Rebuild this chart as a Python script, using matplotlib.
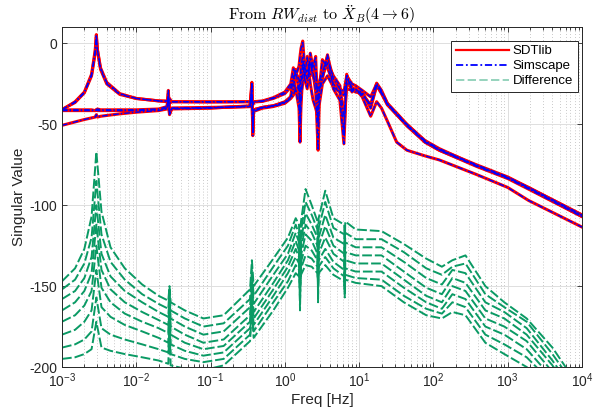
import matplotlib

matplotlib.use("Agg")

import matplotlib.pyplot as plt
from matplotlib.lines import Line2D


plt.rcParams["font.family"] = ["Liberation Sans", "DejaVu Sans"]
plt.rcParams["mathtext.fontset"] = "custom"
plt.rcParams["mathtext.rm"] = "Liberation Sans"
plt.rcParams["mathtext.it"] = "Liberation Sans:italic"
plt.rcParams["axes.unicode_minus"] = False

TEXT_COLOR = "#262626"
SDT_COLOR = "#ff0000"
SIM_COLOR = "#0000ff"
DIFF_COLOR = "#0a9a64"
SIM_STYLE = (0, (4, 1.5, 1, 1.5))
DIFF_STYLE = (0, (5, 1.5))

# SDTlib / Simscape singular values (dB)
SDT_FREQ = [0.001, 0.0015, 0.002, 0.0025, 0.0028, 0.0029, 0.003, 0.0033, 0.004, 0.006,
            0.01, 0.02, 0.026, 0.027, 0.028, 0.03, 0.1, 0.34, 0.36, 0.37,
            0.38, 0.5, 0.7, 1.0, 1.2, 1.3, 1.4, 1.55, 1.6, 1.65,
            1.74, 1.85, 2.0, 2.2, 2.4, 2.6, 2.8, 2.9, 3.2, 3.75,
            4.5, 5.5, 6.24, 6.8, 8.0, 8.9, 11, 14.3, 17.2, 20,
            24, 32, 44, 77, 120, 380, 1000, 1900, 10000]
SDT_1 = [-41, -36, -30, -19, -4, 5.5, -4, -15, -24, -31,
         -34, -35.5, -35.5, -35.8, -34, -36, -36, -36, -35, -36.5,
         -36, -35.5, -33.5, -30, -25, -15, -20, -14, -8, -3,
         1.5, -15, -22, -12, -20, -25, -28, -24, -18, -8,
         -22, -28, -30, -20, -25, -26, -29, -33, -25, -30,
         -37, -43, -50, -60, -65, -75.5, -83, -89, -106]
SDT_2 = [-41, -41, -41, -41, -41.5, -41, -40.5, -41, -41, -41,
         -41, -40.5, -39, -29, -44, -40.5, -40, -38.5, -24, -57,
         -42, -40, -39, -37, -34, -32, -28, -40, -61, -38,
         -20, -15, -18, -10, -18, -30, -66, -38, -25, -20,
         -27, -30, -32, -28, -29, -28, -32, -38, -26, -31,
         -38, -44, -51, -61, -66, -76, -83.5, -90, -107]
SDT_3 = [-50.6, -48.5, -47, -46, -45.5, -44, -45.5, -45, -44.5, -43.5,
         -42.5, -41.5, -40.5, -33, -43, -40, -39.5, -39, -28, -52,
         -41, -39.5, -38.5, -36, -33, -20, -30, -26, -50, -30,
         -25, -20, -8, -25, -35, -40, -45, -30, -22, -7,
         -28, -35, -62, -19, -30, -28, -33, -45, -36, -40,
         -48, -61, -66, -69.5, -72, -81, -89, -97, -113.5]
SDT_4 = [-41.5, -41.5, -41.5, -41.5, -41.5, -41, -41.5, -41.5, -41.5, -41.5,
         -41.5, -41, -40, -31, -43.5, -40, -39.8, -39, -26, -55,
         -41, -39.5, -38.5, -36.5, -33, -28, -16, -30, -45, -25,
         -12, -22, -28, -6, -15, -8, -50, -30, -20, -12,
         -20, -26, -45, -24, -28, -30, -31, -38, -24.5, -29,
         -37, -44, -50, -60.5, -65.5, -75, -82.5, -89, -106]
SDT_5 = [-40.8, -36.5, -30.5, -20, -6, 4, -4, -16, -25, -31.5,
         -34, -35.5, -36, -34, -37, -36, -36.2, -36, -33, -38,
         -36.2, -35.8, -34, -31, -27, -22, -18, -22, -30, -14,
         -8, -20, -16, -20, -12, -18, -35, -28, -10, -15,
         -25, -30, -55, -22, -27, -29, -30, -40, -26, -30,
         -37.5, -43.5, -50.5, -61, -66, -75.5, -83, -89.5, -107]

# Difference between the two models (dB)
DIFF_FREQ = [0.001, 0.0015, 0.002, 0.0025, 0.0029, 0.0034, 0.0045, 0.007, 0.012, 0.02,
             0.027, 0.028, 0.029, 0.045, 0.08, 0.15, 0.34, 0.36, 0.38, 0.7,
             1.1, 1.4, 1.55, 1.6, 1.65, 1.9, 2.3, 2.75, 2.8, 2.85,
             3.5, 4.5, 6.3, 6.4, 6.5, 9, 20, 40, 80, 130,
             180, 270, 500, 900, 1800, 4000, 10000]
DIFF_1 = [-147, -139, -127, -107, -67, -104, -126, -139, -149, -156,
          -159, -150, -160, -165, -170, -168, -152, -134, -150, -133,
          -120, -108, -112, -140, -110, -90, -100, -110, -135, -108,
          -91, -108, -112, -130, -110, -115, -116, -124, -133, -138,
          -134, -131, -150, -160, -170, -188, -215]
DIFF_2 = [-152, -146, -136, -120, -85, -118, -135, -146, -155, -161,
          -164, -152, -165, -170, -175, -173, -158, -140, -156, -138,
          -125, -112, -118, -150, -116, -98, -106, -115, -145, -114,
          -98, -114, -118, -140, -117, -121, -121, -129, -139, -143,
          -138, -136, -155, -163, -172, -192, -218]
DIFF_3 = [-158, -153, -145, -132, -100, -130, -144, -153, -160, -166,
          -169, -155, -170, -175, -180, -178, -163, -145, -161, -143,
          -130, -117, -123, -158, -122, -105, -112, -120, -155, -120,
          -106, -120, -124, -150, -123, -126, -126, -135, -145, -149,
          -140, -142, -160, -166, -176, -196, -222]
DIFF_4 = [-165, -160, -153, -142, -112, -140, -152, -160, -166, -171,
          -174, -158, -175, -180, -185, -183, -168, -150, -166, -148,
          -134, -122, -128, -165, -127, -112, -117, -125, -160, -125,
          -113, -125, -130, -157, -129, -131, -131, -141, -151, -155,
          -145, -148, -165, -170, -180, -199, -225]
DIFF_5 = [-172, -168, -162, -153, -125, -151, -160, -167, -172, -176,
          -179, -160, -180, -185, -189, -187, -172, -153, -170, -152,
          -138, -127, -132, -160, -131, -118, -122, -130, -152, -130,
          -120, -130, -135, -152, -134, -136, -136, -146, -156, -160,
          -150, -153, -170, -175, -184, -203, -228]
DIFF_6 = [-180, -177, -172, -165, -140, -163, -169, -174, -178, -182,
          -185, -162, -186, -190, -193, -191, -176, -156, -174, -156,
          -142, -132, -136, -150, -135, -125, -128, -134, -148, -134,
          -127, -135, -140, -150, -139, -141, -141, -151, -160, -164,
          -155, -158, -175, -180, -189, -207, -230]
DIFF_7 = [-188, -186, -183, -178, -157, -176, -180, -183, -186, -189,
          -191, -165, -192, -195, -197, -195, -180, -160, -178, -160,
          -147, -137, -140, -146, -139, -131, -133, -138, -146, -138,
          -132, -139, -144, -150, -143, -145, -146, -156, -164, -167,
          -160, -163, -180, -186, -194, -210, -232]
DIFF_8 = [-195, -194, -192, -189, -172, -188, -190, -192, -194, -196,
          -198, -170, -199, -201, -202, -199, -184, -165, -182, -165,
          -151, -142, -144, -149, -143, -137, -138, -142, -150, -142,
          -137, -143, -147, -152, -146, -148, -150, -160, -168, -170,
          -166, -168, -185, -192, -200, -214, -235]

X_TICKS = [1e-3, 1e-2, 1e-1, 1e0, 1e1, 1e2, 1e3, 1e4]
X_TICK_LABELS = ["$10^{-3}$", "$10^{-2}$", "$10^{-1}$", "$10^{0}$",
                 "$10^{1}$", "$10^{2}$", "$10^{3}$", "$10^{4}$"]
Y_TICKS = [-200, -150, -100, -50, 0]

sdt_curves = [SDT_1, SDT_2, SDT_3, SDT_4, SDT_5]
diff_curves = [DIFF_1, DIFF_2, DIFF_3, DIFF_4, DIFF_5, DIFF_6, DIFF_7, DIFF_8]

fig = plt.figure(figsize=(5.93, 4.19), dpi=100)
ax = fig.add_axes([62 / 593, 52 / 419, 520 / 593, 339.7 / 419])

for values in diff_curves:
    ax.plot(DIFF_FREQ, values, color=DIFF_COLOR, linewidth=1.4, linestyle=DIFF_STYLE)
for values in sdt_curves:
    ax.plot(SDT_FREQ, values, color=SDT_COLOR, linewidth=2.2, solid_joinstyle="round")
for values in sdt_curves:
    ax.plot(SDT_FREQ, values, color=SIM_COLOR, linewidth=1.0, linestyle=SIM_STYLE)

ax.set_xscale("log")
ax.set_xlim(1e-3, 1e4)
ax.set_ylim(-200, 10)
ax.set_xticks(X_TICKS)
ax.set_xticklabels(X_TICK_LABELS)
ax.set_yticks(Y_TICKS)

ax.grid(which="major", color="#dedede", linewidth=0.7, linestyle="-")
ax.grid(which="minor", axis="x", color="#b8b8b8", linewidth=0.6, linestyle=(0, (1, 2.5)))
ax.set_axisbelow(True)
ax.tick_params(which="both", direction="in", top=True, right=True,
               colors=TEXT_COLOR, labelsize=10, width=0.6)
ax.tick_params(which="major", length=3.5)
ax.tick_params(which="minor", length=2)
for spine in ax.spines.values():
    spine.set_color(TEXT_COLOR)
    spine.set_linewidth(0.7)

ax.set_xlabel("Freq [Hz]", fontsize=11, color=TEXT_COLOR, labelpad=2)
ax.set_ylabel("Singular Value", fontsize=11, color=TEXT_COLOR, labelpad=2)
ax.set_title(r"$\mathrm{From}\ RW_{dist}\ \mathrm{to}\ \ddot{X}_B(4 \rightarrow 6)$",
             fontsize=11.5, math_fontfamily="cm", pad=5, color="black")

handles = [
    Line2D([], [], color=SDT_COLOR, linewidth=1.6),
    Line2D([], [], color=SIM_COLOR, linewidth=1.3, linestyle=SIM_STYLE),
    Line2D([], [], color=DIFF_COLOR, linewidth=1.2, linestyle=(0, (5, 2)), alpha=0.5),
]
legend = ax.legend(handles, ["SDTlib", "Simscape", "Difference"], loc="upper right",
                   bbox_to_anchor=(0.992, 0.961), borderaxespad=0, fontsize=9.5,
                   fancybox=False, framealpha=1, edgecolor=TEXT_COLOR,
                   handlelength=4.0, handletextpad=0.3, labelspacing=0.2,
                   borderpad=0.35)
legend.get_frame().set_linewidth(0.7)

fig.savefig("out.png", dpi=100)
plt.close(fig)
